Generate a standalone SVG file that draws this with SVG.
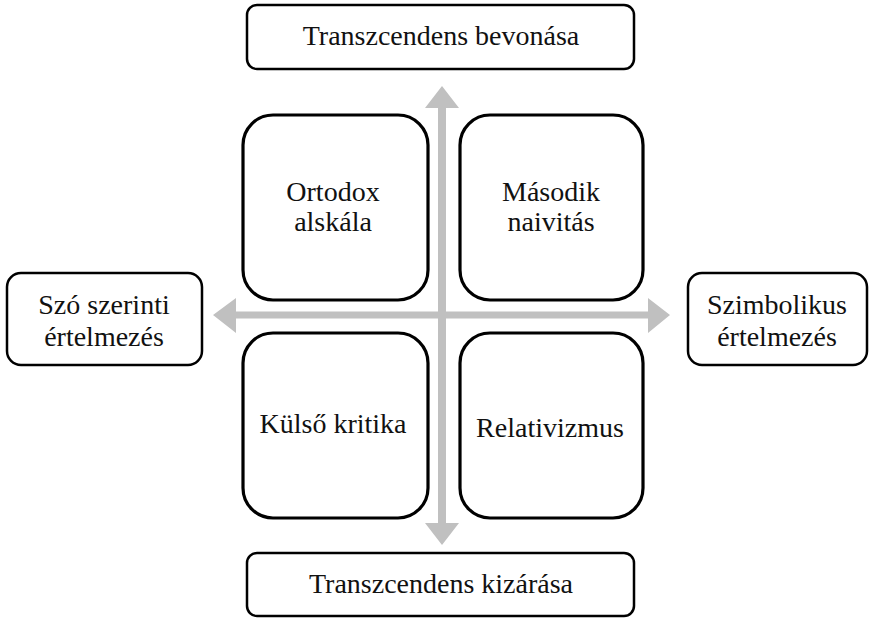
<svg xmlns="http://www.w3.org/2000/svg" width="870" height="618" viewBox="0 0 870 618">
<style>
.box{fill:#fff;stroke:#000;stroke-width:2.5}
.q{fill:#fff;stroke:#000;stroke-width:3.2}
.t{font-family:"Liberation Serif","Times New Roman",serif;font-size:28px;fill:#111;text-anchor:middle}
.arr{fill:#c0c0c0}
</style>
<rect width="870" height="618" fill="#fff"/>
<g id="connectors">
<polygon class="arr" points="442,86 459,108 446,108 446,523 459,523 442,545 425,523 438,523 438,108 425,108"/>
<polygon class="arr" points="213,315 236,298 236,311.5 648,311.5 648,298 670,315 648,333 648,318.5 236,318.5 236,333"/>
</g>
<g id="top">
<rect class="box" x="247" y="5" width="387" height="64" rx="10"/>
<text class="t" x="441" y="45">Transzcendens bevonása</text>
</g>
<g id="bottom">
<rect class="box" x="247" y="553" width="387" height="63" rx="10"/>
<text class="t" x="441" y="593">Transzcendens kizárása</text>
</g>
<g id="left">
<rect class="box" x="7" y="273" width="195" height="92" rx="14"/>
<text class="t" x="104" y="314">Szó szerinti</text>
<text class="t" x="104" y="346">értelmezés</text>
</g>
<g id="right">
<rect class="box" x="688" y="273" width="179" height="92" rx="14"/>
<text class="t" x="777" y="314">Szimbolikus</text>
<text class="t" x="777" y="346">értelmezés</text>
</g>
<g id="ortodox">
<rect class="q" x="243" y="115" width="185" height="185" rx="30"/>
<text class="t" x="333" y="201">Ortodox</text>
<text class="t" x="333" y="231">alskála</text>
</g>
<g id="masodik">
<rect class="q" x="460" y="115" width="183" height="185" rx="30"/>
<text class="t" x="551" y="201">Második</text>
<text class="t" x="551" y="231">naivitás</text>
</g>
<g id="kulso">
<rect class="q" x="243" y="333" width="185" height="185" rx="30"/>
<text class="t" x="333" y="433">Külső kritika</text>
</g>
<g id="relativizmus">
<rect class="q" x="460" y="333" width="183" height="185" rx="30"/>
<text class="t" x="550" y="437">Relativizmus</text>
</g>
</svg>
